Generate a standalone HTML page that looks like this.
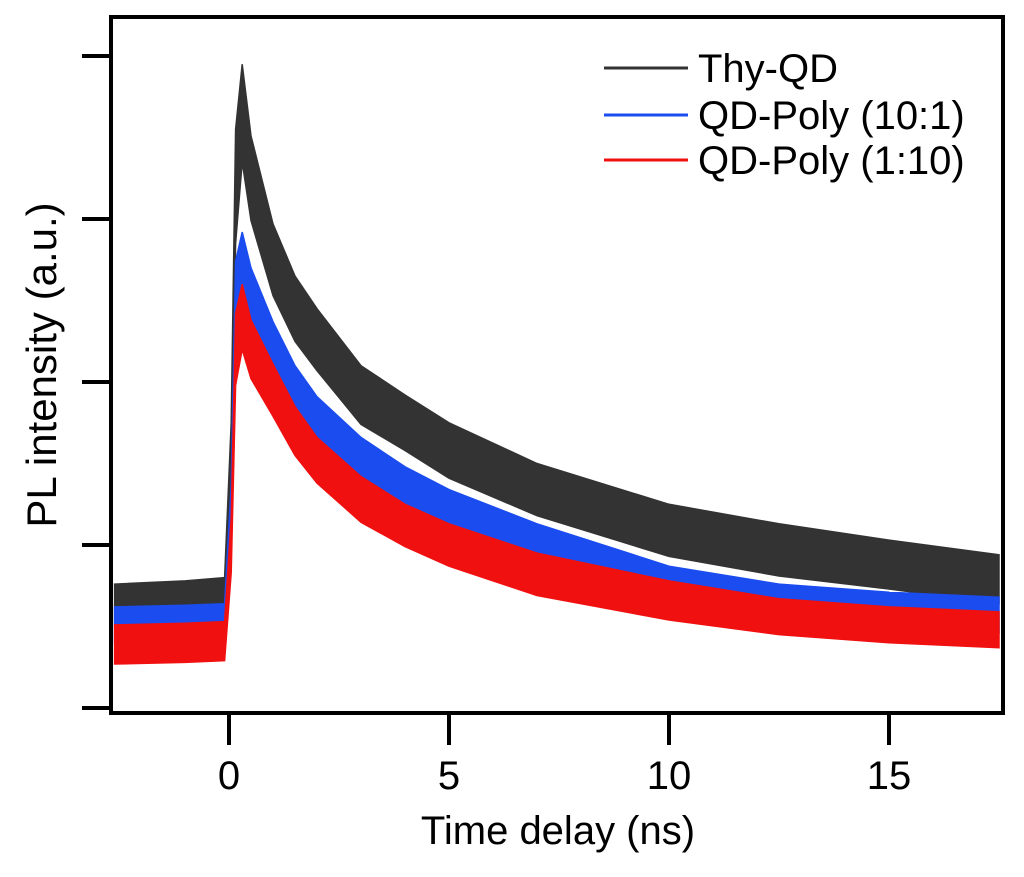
<!DOCTYPE html>
<html><head><meta charset="utf-8"><style>
body{margin:0;background:#fff;}
svg{display:block;font-family:"Liberation Sans",Arial,sans-serif;}
</style></head><body>
<svg id="chart" width="1024" height="877" viewBox="0 0 1024 877">
<g id="series"></g>
<rect x="111" y="17" width="892" height="696" fill="none" stroke="#000" stroke-width="4"/>
<g id="axes"></g>
<text x="558" y="844" font-size="40" text-anchor="middle">Time delay (ns)</text>
<text transform="translate(56,365) rotate(-90)" font-size="42" text-anchor="middle">PL intensity (a.u.)</text>
<g>
<line x1="604" y1="68" x2="688" y2="68" stroke="#333" stroke-width="3"/>
<text x="698" y="82" font-size="40">Thy-QD</text>
<line x1="604" y1="115" x2="688" y2="115" stroke="#1a4cf0" stroke-width="3"/>
<text x="698" y="129" font-size="40">QD-Poly (10:1)</text>
<line x1="604" y1="160" x2="688" y2="160" stroke="#f01010" stroke-width="3"/>
<text x="698" y="174" font-size="40">QD-Poly (1:10)</text>
</g>
</svg>
<script>
const times = [-2.6,-1,-0.1,0.05,0.15,0.3,0.5,1,1.5,2,3,4,5,7,10,12.5,15,17.5];
const thyQD   = [0.63,0.64,0.66,1.5,3.2,3.65,3.25,2.75,2.45,2.26,1.92,1.75,1.58,1.34,1.09,0.97,0.88,0.79];
const poly101 = [0.51,0.52,0.53,1.2,2.5,2.7,2.5,2.2,1.95,1.77,1.52,1.35,1.21,1.0,0.75,0.65,0.6,0.57];
const poly110 = [0.39,0.40,0.41,1.0,2.2,2.4,2.2,1.95,1.7,1.52,1.28,1.12,1.0,0.82,0.66,0.56,0.51,0.48];
const ampThy  = [0.13,0.14,0.14,0.25,0.35,0.3,0.26,0.22,0.2,0.19,0.18,0.17,0.17,0.16,0.16,0.16,0.15,0.15];
const ampBlue = [0.11,0.11,0.11,0.17,0.24,0.22,0.2,0.17,0.15,0.14,0.14,0.13,0.13,0.13,0.12,0.11,0.11,0.11];
const ampRed  = [0.12,0.12,0.12,0.17,0.22,0.2,0.18,0.16,0.15,0.14,0.14,0.13,0.13,0.13,0.12,0.11,0.11,0.11];
const xTicks = [0,5,10,15];
const yTicks = [0,1,2,3,4];

const X0=229, XS=44, Y0=708, YS=163;
function xs(t){return X0+t*XS;}
function ys(v){return Y0-v*YS;}
const NS='http://www.w3.org/2000/svg';
const sg=document.getElementById('series');
function band(vals,amp,color,name){
  let up=times.map((t,i)=>xs(t).toFixed(1)+','+ys(vals[i]+amp[i]).toFixed(1));
  let lo=times.map((t,i)=>xs(t).toFixed(1)+','+ys(vals[i]-amp[i]).toFixed(1)).reverse();
  const p=document.createElementNS(NS,'polygon');
  p.setAttribute('points',up.concat(lo).join(' '));
  p.setAttribute('fill',color);
  p.setAttribute('stroke',color);
  p.setAttribute('stroke-width','1.5');
  
  
  sg.appendChild(p);
}
band(thyQD,ampThy,'#333333','series-thy-qd');
band(poly101,ampBlue,'#1a4cf0','series-qd-poly-10-1');
band(poly110,ampRed,'#f01010','series-qd-poly-1-10');

const ax=document.getElementById('axes');
xTicks.forEach(t=>{
  const l=document.createElementNS(NS,'line');
  l.setAttribute('x1',xs(t));l.setAttribute('x2',xs(t));
  l.setAttribute('y1',713);l.setAttribute('y2',745);
  l.setAttribute('stroke','#000');l.setAttribute('stroke-width','4');
  
  
  ax.appendChild(l);
  const tx=document.createElementNS(NS,'text');
  tx.setAttribute('x',xs(t));tx.setAttribute('y',789);
  tx.setAttribute('font-size','40');tx.setAttribute('text-anchor','middle');
  tx.textContent=t;
  
  
  ax.appendChild(tx);
});
yTicks.forEach(v=>{
  const l=document.createElementNS(NS,'line');
  l.setAttribute('x1',82);l.setAttribute('x2',111);
  l.setAttribute('y1',ys(v));l.setAttribute('y2',ys(v));
  l.setAttribute('stroke','#000');l.setAttribute('stroke-width','4');
  
  
  ax.appendChild(l);
});
</script>
</body></html>
